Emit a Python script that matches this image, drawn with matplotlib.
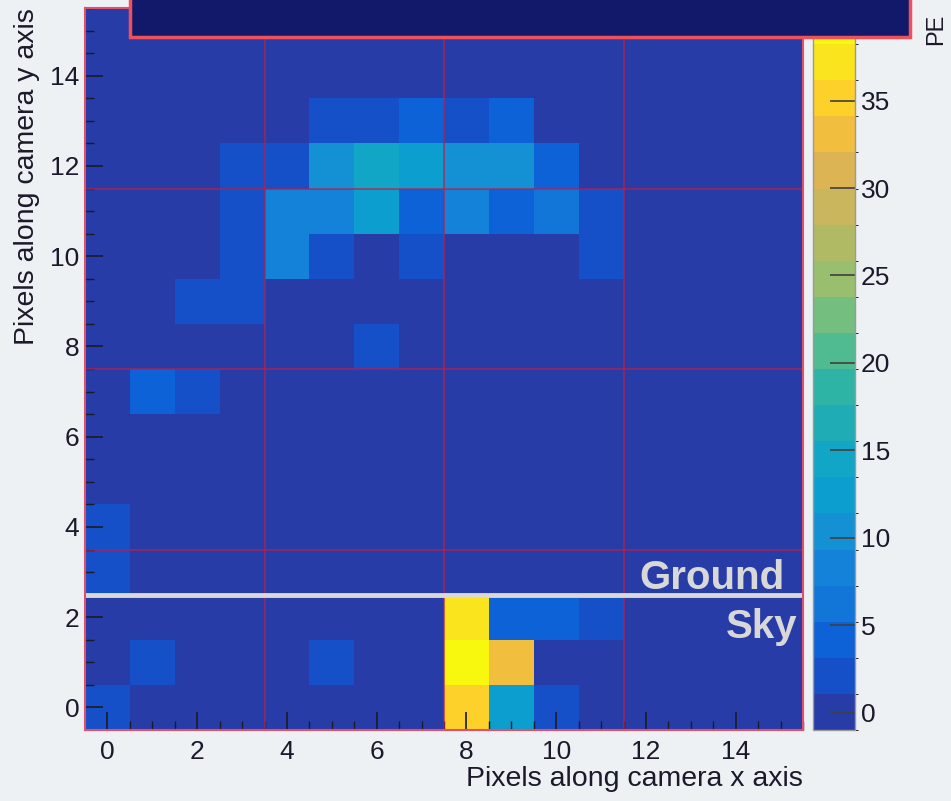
import matplotlib
matplotlib.use('Agg')
import matplotlib.pyplot as plt
import numpy as np
from matplotlib.colors import ListedColormap, BoundaryNorm
from matplotlib.patches import Rectangle

plt.rcParams['font.family'] = ['Liberation Sans', 'DejaVu Sans']

# photo-electrons per camera pixel, rows listed from y=15 (top) down to y=0
pe_rows = [
    [0, 0, 0, 0, 0, 0, 0, 0, 0, 0, 0, 0, 0, 0, 0, 0],      # y=15
    [0, 0, 0, 0, 0, 0, 0, 0, 0, 0, 0, 0, 0, 0, 0, 0],      # y=14
    [0, 0, 0, 0, 0, 2, 2, 4, 2, 4, 0, 0, 0, 0, 0, 0],      # y=13
    [0, 0, 0, 2, 2, 10, 14, 12, 10, 10, 4, 0, 0, 0, 0, 0], # y=12
    [0, 0, 0, 2, 8, 8, 12, 4, 8, 4, 6, 2, 0, 0, 0, 0],     # y=11
    [0, 0, 0, 2, 8, 2, 0, 2, 0, 0, 0, 2, 0, 0, 0, 0],      # y=10
    [0, 0, 2, 2, 0, 0, 0, 0, 0, 0, 0, 0, 0, 0, 0, 0],      # y=9
    [0, 0, 0, 0, 0, 0, 2, 0, 0, 0, 0, 0, 0, 0, 0, 0],      # y=8
    [0, 4, 2, 0, 0, 0, 0, 0, 0, 0, 0, 0, 0, 0, 0, 0],      # y=7
    [0, 0, 0, 0, 0, 0, 0, 0, 0, 0, 0, 0, 0, 0, 0, 0],      # y=6
    [0, 0, 0, 0, 0, 0, 0, 0, 0, 0, 0, 0, 0, 0, 0, 0],      # y=5
    [2, 0, 0, 0, 0, 0, 0, 0, 0, 0, 0, 0, 0, 0, 0, 0],      # y=4
    [2, 0, 0, 0, 0, 0, 0, 0, 0, 0, 0, 0, 0, 0, 0, 0],      # y=3
    [0, 0, 0, 0, 0, 0, 0, 0, 37, 4, 4, 2, 0, 0, 0, 0],     # y=2
    [0, 2, 0, 0, 0, 2, 0, 0, 39.5, 33, 0, 0, 0, 0, 0, 0],  # y=1
    [2, 0, 0, 0, 0, 0, 0, 0, 35, 12, 2, 0, 0, 0, 0, 0],    # y=0
]
pe = np.array(pe_rows[::-1])
n_pix = 16
z_min, z_max = -1.0, 40.3
cbar_ticks = [0, 5, 10, 15, 20, 25, 30, 35]

# ROOT "bird" palette, 20 contour bands
band_colors = ['#283ca8', '#1650c8', '#0e62d8', '#1276d8', '#1482d8',
               '#1490d4', '#0c9ece', '#12a6c6', '#20acb4', '#2eb4a4',
               '#50ba90', '#74be80', '#98be6e', '#b0ba64', '#cab65c',
               '#dcb454', '#f2be3e', '#fdd02a', '#fae41e', '#f8f80e']
cmap = ListedColormap(band_colors)
norm = BoundaryNorm(np.linspace(z_min, z_max, len(band_colors) + 1), cmap.N)

bg = '#edf1f4'
fig = plt.figure(figsize=(9.51, 8.01), dpi=100, facecolor=bg)
W, H = 951, 801
ax = fig.add_axes([85 / W, (H - 730) / H, 718 / W, 722 / H])
cax = fig.add_axes([813 / W, (H - 730) / H, 42 / W, 722 / H])

edges = np.arange(n_pix + 1) - 0.5
mesh = ax.pcolormesh(edges, edges, pe, cmap=cmap, norm=norm)

# module boundaries
for v in [3.5, 7.5, 11.5]:
    ax.axvline(v, color='#b8204a', lw=1.1, alpha=0.85)
    ax.axhline(v, color='#b8204a', lw=1.1, alpha=0.85)

# horizon
ax.axhline(2.5, color='#d9d9d9', lw=3.5)
ax.text(15.1, 2.62, 'Ground', color='#d8d8d8', fontsize=29, fontweight='bold',
        ha='right', va='baseline')
ax.text(15.38, 2.2, 'Sky', color='#d8d8d8', fontsize=29, fontweight='bold',
        ha='right', va='top')

ax.set_xlim(-0.5, 15.5)
ax.set_ylim(-0.5, 15.5)
ax.set_xticks(np.arange(0, 16, 2))
ax.set_yticks(np.arange(0, 16, 2))
ax.set_xticks(np.arange(0, 15.6, 0.5), minor=True)
ax.set_yticks(np.arange(0, 15.6, 0.5), minor=True)
ax.tick_params(which='both', direction='in', color='#1a1a2a', top=False, right=False)
ax.tick_params(which='major', length=13, width=1.2, labelsize=19, colors='#1a1a2a')
ax.tick_params(which='minor', length=6.5, width=1.0)
ax.tick_params(axis='x', pad=7)
ax.tick_params(axis='y', pad=4)
for s in ax.spines.values():
    s.set_color('#e0506a')
    s.set_linewidth(1.5)

ax.set_xlabel('Pixels along camera x axis', fontsize=20.5, loc='right', color='#1a1a2a')
ax.set_ylabel('Pixels along camera y axis', fontsize=20.5, loc='top', color='#1a1a2a')
ax.xaxis.set_label_coords(1.0, -0.05)
ax.yaxis.set_label_coords(-0.062, 1.0)

cb = fig.colorbar(mesh, cax=cax, ticks=cbar_ticks)
cb.outline.set_edgecolor('#9a9a9a')
cb.outline.set_linewidth(1.0)
cax.tick_params(direction='in', length=18, width=1.2, color='#404040',
                labelsize=19, labelcolor='#1a1a2a', pad=4)
cax.set_ylim(z_min, z_max)

fig.text(936 / W, 1 - 45 / H, 'PE', rotation=90, fontsize=17, color='#1a1a2a',
         ha='center', va='bottom')

# title pave
fig.add_artist(Rectangle((130 / W, 1 - 37 / H), 780 / W, 50 / H,
                         transform=fig.transFigure, facecolor='#12196a',
                         edgecolor='#f0505a', lw=2.5, zorder=10, clip_on=False))

fig.savefig('out.png', dpi=100, facecolor=bg)
